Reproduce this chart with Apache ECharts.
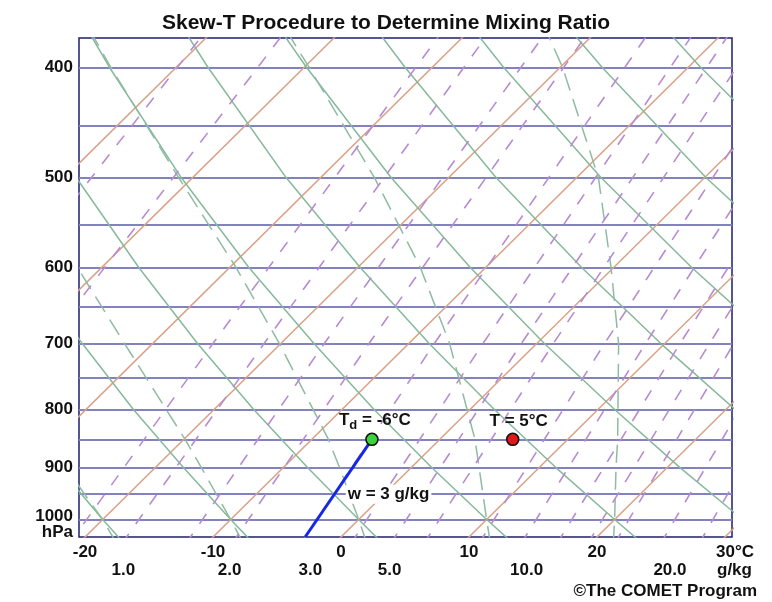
<!DOCTYPE html>
<html>
<head>
<meta charset="utf-8">
<script src="https://cdn.jsdelivr.net/npm/echarts@6/dist/echarts.min.js"></script>
<style>html,body{margin:0;padding:0;background:#fff}#chart{width:772px;height:602px}</style>
</head>
<body>
<div id="chart"></div>
<script>
// ---------- text ----------
const TITLE = 'Skew-T Procedure to Determine Mixing Ratio';
const CREDIT = '\u00A9The COMET Program';

// ---------- diagram frame (pressure hPa, temperature °C at the bottom edge) ----------
const P_TOP = 376.8;
const P_BOTTOM = 1036;
const T_LEFT = -20.47;
const T_RIGHT = 30.55;
const SKEW = 39;               // °C of skew per unit of ln(p)

// ---------- axes ----------
const ISOBARS = [400, 450, 500, 550, 600, 650, 700, 750, 800, 850, 900, 950, 1000];
const PRESSURE_LABELS = [400, 500, 600, 700, 800, 900, 1000];
const UNIT_LABEL_P = [1026];          // where the "hPa" unit sits under 1000
const TEMP_TICKS = [-20, -10, 0, 10, 20, 30];
const MIX_LABELS = ['1.0', '2.0', '3.0', '5.0', '10.0', '20.0'];
const MIX_LABEL_T = [-17.0, -8.7, -2.4, 3.8, 14.5, 25.7];   // where they sit on the bottom edge

// ---------- isotherms (°C) ----------
const ISOTHERMS = [-50, -40, -30, -20, -10, 0, 10, 20, 30];
const ISOTHERM_ENDS = [1050, 350];

// ---------- dry adiabats: temperature (°C) at each level ----------
const DRY_LEVELS = [1050, 1000, 900, 800, 700, 600, 500, 400, 350];
const DRY_THETA = [-20, -10, 0, 10, 20, 30, 40, 50, 60, 70];
const DRY_M20 = [-16.4, -20, -27.5, -35.6, -44.5, -54.4, -65.5, -78.3, -85.6];
const DRY_M10 = [-6.3, -10, -17.8, -26.3, -35.5, -45.7, -57.3, -70.6, -78.2];
const DRY_0   = [3.8, 0, -8.1, -16.9, -26.5, -37.1, -49.1, -62.9, -70.8];
const DRY_10  = [14.0, 10, 1.6, -7.5, -17.4, -28.5, -40.9, -55.2, -63.4];
const DRY_20  = [24.1, 20, 11.3, 1.9, -8.4, -19.8, -32.7, -47.5, -56.0];
const DRY_30  = [34.3, 30, 21.0, 11.3, 0.6, -11.2, -24.5, -39.8, -48.6];
const DRY_40  = [44.4, 40, 30.7, 20.7, 9.7, -2.5, -16.3, -32.1, -41.2];
const DRY_50  = [54.5, 50, 40.4, 30.0, 18.7, 6.1, -8.1, -24.4, -33.7];
const DRY_60  = [64.7, 60, 50.1, 39.4, 27.7, 14.8, 0.1, -16.7, -26.3];
const DRY_70  = [74.8, 70, 59.8, 48.8, 36.8, 23.4, 8.4, -9.0, -18.9];
const DRY_TEMPS = [DRY_M20, DRY_M10, DRY_0, DRY_10, DRY_20, DRY_30, DRY_40, DRY_50, DRY_60, DRY_70];

// ---------- moist adiabats: temperature (°C) at each level ----------
const MOIST_LEVELS = [1050, 1000, 900, 850, 700, 600, 500, 400, 350];
const MOIST_M20 = [-17.0, -20, -27.0, -30.5, -41.3, -50.5, -61.5, -74.5, -81.8];
const MOIST_M10 = [-7.1, -10, -16.4, -19.9, -32.2, -41.9, -53.3, -66.8, -74.6];
const MOIST_0   = [2.55, 0, -5.6, -8.7, -20.1, -29.5, -41.1, -55.1, -63.2];
const MOIST_10  = [12.2, 10, 5.3, 2.75, -6.8, -15.1, -25.8, -39.6, -48.0];
const MOIST_20  = [21.8, 20, 16.0, 13.9, 6.4, -0.2, -8.3, -19.8, -27.3];
const MOIST_TEMPS = [MOIST_M20, MOIST_M10, MOIST_0, MOIST_10, MOIST_20];

// ---------- mixing-ratio lines (g/kg): temperature (°C) at each level ----------
const MIX_LEVELS = [1050, 700, 350];
const MIX_RATIOS = [0.1, 0.2, 0.7, 1, 1.5, 2, 3, 4, 5, 6, 8, 10, 12, 14, 16, 20, 24];
const MIX_TEMPS = [
  [-41.1, -44.9, -51.1],
  [-34.3, -38.3, -44.9],
  [-20.7, -25.3, -32.7],
  [-16.6, -21.3, -29.0],
  [-11.6, -16.6, -24.6],
  [-8.0, -13.1, -21.3],
  [-2.6, -8.0, -16.6],
  [1.3, -4.2, -13.1],
  [4.4, -1.2, -10.3],
  [7.0, 1.3, -8.0],
  [11.3, 5.3, -4.3],
  [14.6, 8.5, -1.4],
  [17.4, 11.2, 1.1],
  [19.8, 13.5, 3.2],
  [21.9, 15.4, 5.1],
  [25.5, 18.9, 8.3],
  [28.5, 21.7, 10.9]
];

// ---------- the worked example ----------
const W3_P = [1036, 850];
const W3_T = [-2.8, -5.3];
const POINT_P = [850, 850];
const POINT_T = [-5.3, 5.7];
const W_LABEL_P = 950;
const W_LABEL_T = -3.95;

// ---------- styling ----------
const FONT = '"Liberation Sans", Arial, Helvetica, sans-serif';
const TEXT = '#111111';
const C_ISOBAR = '#8282be';
const C_ISO = '#d9a287';
const C_DRY = '#86b99a';
const C_MOIST = '#8fbba2';
const C_MIX = '#b78bd3';

const skewX = (t, p) => t + SKEW * Math.log(P_BOTTOM / p);
const pt = (t, p) => [skewX(t, p), Math.log(p)];

function lineSeries(name, data, color, width, type) {
  return {
    type: 'line', name, data, symbol: 'none', showSymbol: false, silent: true, clip: true,
    animation: false, lineStyle: { color, width, type, opacity: 1 }
  };
}

const series = [];
ISOTHERMS.forEach(t => series.push(lineSeries('iso ' + t, ISOTHERM_ENDS.map(p => pt(t, p)), C_ISO, 1.5, 'solid')));
DRY_TEMPS.forEach((row, i) => series.push(lineSeries('theta ' + DRY_THETA[i], DRY_LEVELS.map((p, j) => pt(row[j], p)), C_DRY, 1.5, 'solid')));
MOIST_TEMPS.forEach((row, i) => series.push(lineSeries('thetaw ' + i, MOIST_LEVELS.map((p, j) => pt(row[j], p)), C_MOIST, 1.5, [18, 9])));
MIX_TEMPS.forEach((row, i) => series.push(lineSeries('w ' + MIX_RATIOS[i], MIX_LEVELS.map((p, j) => pt(row[j], p)), C_MIX, 1.6, [12, 12])));

series.push(Object.assign(lineSeries('w = 3', W3_P.map((p, j) => pt(W3_T[j], p)), '#1428e6', 3, 'solid'), { z: 5 }));

const bold = (size, extra) => Object.assign({ fontSize: size, fontWeight: 'bold', fontFamily: FONT, color: TEXT, opacity: 1 }, extra || {});

series.push({
  type: 'scatter', silent: true, z: 6, animation: false,
  data: [pt(W_LABEL_T, W_LABEL_P)],
  symbolSize: 0,
  itemStyle: { opacity: 1 },
  label: {
    show: true, position: 'right', distance: 12,
    formatter: 'w = 3 g/kg',
    backgroundColor: '#ffffff', padding: [1, 2],
    ...bold(17)
  }
});

series.push({
  type: 'scatter', silent: true, z: 7, animation: false,
  symbolSize: 12,
  itemStyle: { opacity: 1 },
  data: [
    {
      value: pt(POINT_T[0], POINT_P[0]),
      itemStyle: { color: '#3ad43a', borderColor: '#111', borderWidth: 1.5, opacity: 1 },
      label: {
        show: true, position: 'top', distance: 1, offset: [3, 0],
        formatter: '{t|T}{d|d}{t| = -6\u00B0C}',
        rich: { t: bold(17), d: bold(13, { padding: [9, 0, 0, 0] }) }
      }
    },
    {
      value: pt(POINT_T[1], POINT_P[1]),
      itemStyle: { color: '#e01818', borderColor: '#111', borderWidth: 1.5, opacity: 1 },
      label: {
        show: true, position: 'top', distance: 3, offset: [6, 0],
        formatter: 'T = 5\u00B0C', ...bold(17)
      }
    }
  ]
});

const yBase = {
  type: 'value', inverse: true, min: Math.log(P_TOP), max: Math.log(P_BOTTOM), position: 'left'
};

const option = {
  animation: false,
  backgroundColor: '#ffffff',
  textStyle: { fontFamily: FONT },
  title: [
    { text: TITLE, left: 'center', top: 13, padding: 0, textStyle: bold(21) },
    { text: CREDIT, right: 15, top: 583, padding: 0, textStyle: bold(17) }
  ],
  grid: {
    left: 79, right: 40, top: 38, bottom: 65, show: true,
    borderColor: '#1e1e6e', borderWidth: 1.5, backgroundColor: '#ffffff',
    containLabel: false, outerBoundsMode: 'none'
  },
  xAxis: [
    {
      type: 'value', min: T_LEFT, max: T_RIGHT, position: 'bottom',
      axisLine: { show: false }, splitLine: { show: false },
      axisTick: { show: false, customValues: TEMP_TICKS },
      axisLabel: {
        customValues: TEMP_TICKS, margin: 7, ...bold(17),
        formatter: v => (Math.round(v) === 30 ? '{p|30}\u00B0C' : String(Math.round(v))),
        rich: { p: bold(17, { padding: [0, 0, 0, 20] }) }
      }
    },
    {
      type: 'value', min: T_LEFT, max: T_RIGHT, position: 'bottom',
      axisLine: { show: false }, splitLine: { show: false },
      axisTick: { show: false, customValues: MIX_LABEL_T },
      axisLabel: {
        customValues: MIX_LABEL_T, margin: 25, ...bold(17),
        formatter: v => {
          let best = 0;
          MIX_LABEL_T.forEach((t, i) => { if (Math.abs(t - v) < Math.abs(MIX_LABEL_T[best] - v)) best = i; });
          return MIX_LABELS[best];
        }
      },
      name: 'g/kg', nameLocation: 'end', nameGap: -15,
      nameTextStyle: bold(17, { align: 'left', verticalAlign: 'top', padding: [25, 0, 0, 0] })
    }
  ],
  yAxis: [
    Object.assign({}, yBase, {
      axisLine: { show: false },
      axisTick: { show: false, customValues: ISOBARS.map(p => Math.log(p)) },
      splitLine: { show: true, lineStyle: { color: C_ISOBAR, width: 1.8 } },
      axisLabel: {
        customValues: PRESSURE_LABELS.map(p => Math.log(p)), margin: 6, ...bold(17),
        formatter: v => {
          const p = Math.round(Math.exp(v));
          return p === 1000 ? '{u|1000}' : String(p);
        },
        rich: { u: bold(17, { padding: [0, 0, 6, 0] }) }
      }
    }),
    Object.assign({}, yBase, {
      axisLine: { show: false },
      axisTick: { show: false, customValues: UNIT_LABEL_P.map(p => Math.log(p)) },
      splitLine: { show: false },
      axisLabel: {
        customValues: UNIT_LABEL_P.map(p => Math.log(p)), margin: 6, ...bold(17),
        formatter: () => 'hPa'
      }
    })
  ],
  series
};

const chart = echarts.init(document.getElementById('chart'), null, { renderer: 'canvas' });
chart.setOption(option);
</script>
</body>
</html>
